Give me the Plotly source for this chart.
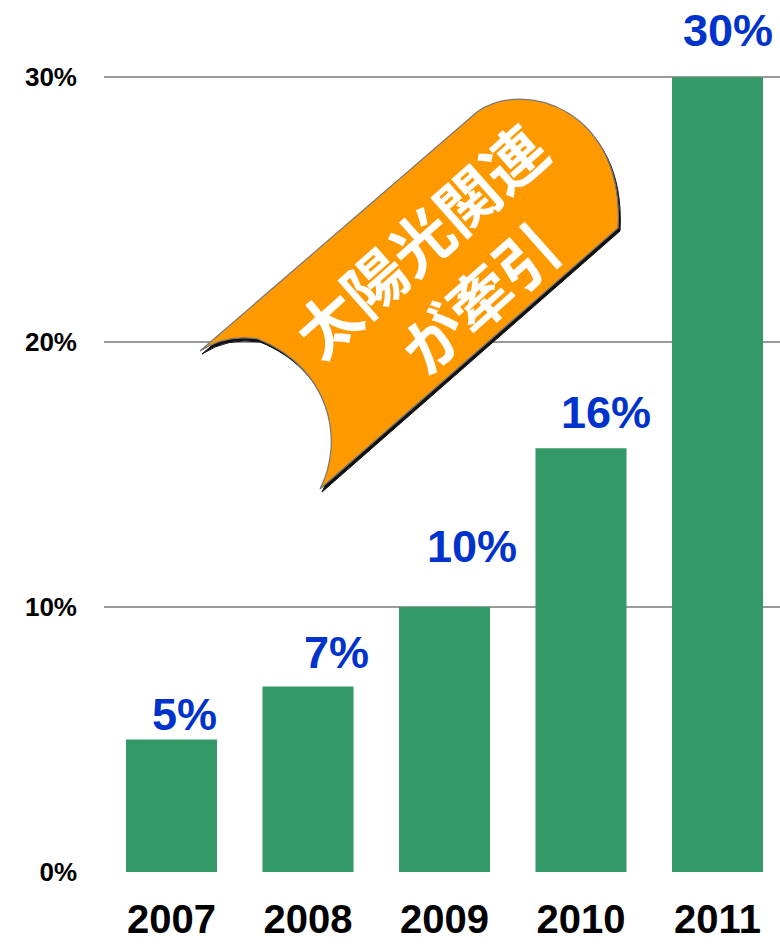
import plotly.graph_objects as go

# Data
years = ["2007", "2008", "2009", "2010", "2011"]
share = [5, 7, 10, 16, 30]          # percent
value_labels = [f"{v}%" for v in share]
y_ticks = [0, 10, 20, 30]
y_tick_text = ["0%", "10%", "20%", "30%"]
banner_lines = ["太陽光関連", "が牽引"]

# Figure geometry (page pixels)
W, H = 780, 944
ML, MR, MT, MB = 104, 0, 40, 72
PW, PH = W - ML - MR, H - MT - MB
PX_PER_PCT = 26.49
CAT_W = 136.5
FIRST_CX = 171.5

x_lo = (ML - FIRST_CX) / CAT_W
x_hi = (W - MR - FIRST_CX) / CAT_W
y_hi = PH / PX_PER_PCT

GREEN = "#339966"
BLUE = "#0033CC"
ORANGE = "#FF9900"


def to_paper(px, py):
    return (px - ML) / PW, (H - MB - py) / PH


def path_from(cmds, dx=0.0, dy=0.0):
    out = []
    for op, pts in cmds:
        coords = []
        for (px, py) in pts:
            u, v = to_paper(px + dx, py + dy)
            coords.append(f"{u:.5f},{v:.5f}")
        out.append(op + " " + " ".join(coords))
    return " ".join(out) + " Z"


# Outline of the ribbon callout (page pixels)
ribbon = [
    ("M", [(200, 351)]),
    ("L", [(477, 112)]),
    ("C", [(525, 78), (625, 110), (618, 228)]),
    ("L", [(320, 489)]),
    ("C", [(345, 440), (330, 368), (258, 339)]),
    ("Q", [(226, 334), (200, 351)]),
]

fig = go.Figure()
fig.add_trace(go.Bar(
    x=list(range(len(years))),
    y=share,
    width=0.667,
    marker=dict(color=GREEN, line=dict(width=0)),
    hoverinfo="skip",
))

# Value labels above the bars
x_shift = [13, 28, 27, 25, 10]
y_shift = [25, 34, 61, 36, 47]
annotations = []
for i, (v, t) in enumerate(zip(share, value_labels)):
    annotations.append(dict(
        x=i, y=v, xref="x", yref="y", text=f"<b>{t}</b>", showarrow=False,
        xanchor="center", yanchor="middle", xshift=x_shift[i], yshift=y_shift[i],
        font=dict(family="Liberation Sans, Arial, sans-serif", size=45, color=BLUE),
    ))

# Ribbon text, rotated along the ribbon
for (cx, cy), line in zip([(419, 239), (478, 296)], banner_lines):
    u, v = to_paper(cx, cy)
    annotations.append(dict(
        x=u, y=v, xref="paper", yref="paper", text=f"<b>{line}</b>", showarrow=False,
        xanchor="center", yanchor="middle", textangle=-41.5,
        font=dict(family="Noto Sans CJK JP, sans-serif", size=62, color="white"),
    ))

shapes = [
    dict(type="path", xref="paper", yref="paper", path=path_from(ribbon, 2, 3),
         fillcolor="#111111", line=dict(color="#111111", width=1), layer="above"),
    dict(type="path", xref="paper", yref="paper", path=path_from(ribbon),
         fillcolor=ORANGE, line=dict(color="#777777", width=1.2), layer="above"),
]

fig.update_layout(
    width=W, height=H,
    margin=dict(l=ML, r=MR, t=MT, b=MB, pad=0),
    paper_bgcolor="white", plot_bgcolor="white",
    showlegend=False,
    annotations=annotations,
    shapes=shapes,
    xaxis=dict(
        range=[x_lo, x_hi], tickmode="array",
        tickvals=list(range(len(years))), ticktext=[f"<b>{y}</b>" for y in years],
        showgrid=False, zeroline=False, showline=False, ticks="",
        tickfont=dict(family="Liberation Sans, Arial, sans-serif", size=40, color="black"),
        ticklabelstandoff=20,
    ),
    yaxis=dict(
        range=[0, y_hi], tickmode="array", tickvals=y_ticks,
        ticktext=[f"<b>{t}</b>" for t in y_tick_text],
        showgrid=True, gridcolor="#9a9a9a", gridwidth=1.5,
        zeroline=False, showline=False, ticks="",
        tickfont=dict(family="Liberation Sans, Arial, sans-serif", size=26, color="black"),
        ticklabelstandoff=26,
    ),
)

fig.write_html("out.html")
